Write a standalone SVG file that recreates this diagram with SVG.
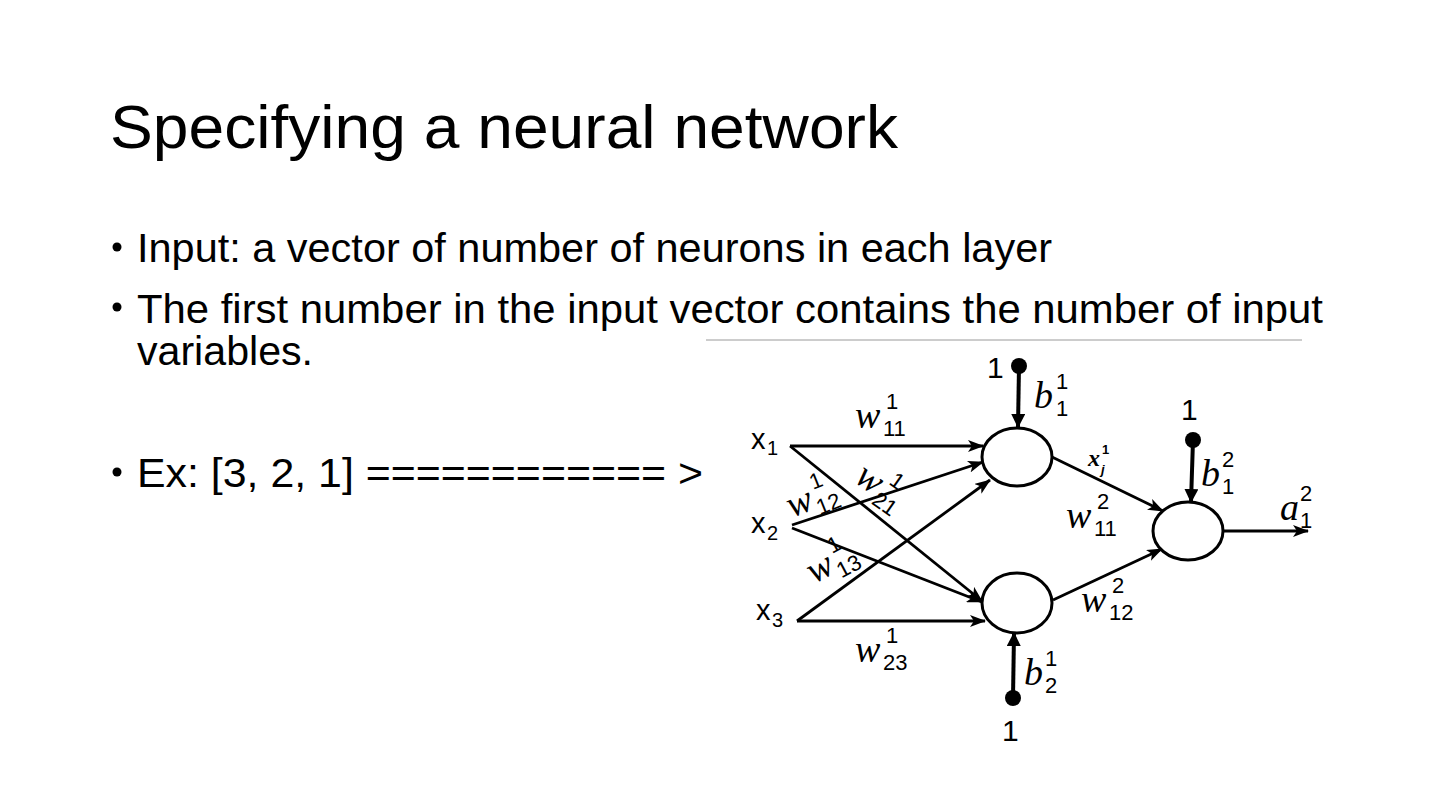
<svg xmlns="http://www.w3.org/2000/svg" width="1440" height="810" viewBox="0 0 1440 810">
<defs>
<style>
.title{font-family:"Liberation Sans Narrow","Liberation Sans",sans-serif;font-size:62px;fill:#000}
.body{font-family:"Liberation Sans Narrow","Liberation Sans",sans-serif;font-size:40px;fill:#000}
.lbl{font-family:"Liberation Sans","DejaVu Sans",sans-serif;font-size:29px;fill:#000}
.lsub{font-family:"Liberation Sans","DejaVu Sans",sans-serif;font-size:20px;fill:#000}
.one{font-family:"Liberation Sans","DejaVu Sans",sans-serif;font-size:30px;fill:#000}
.m{font-family:"Liberation Serif","DejaVu Serif",serif;font-style:italic;font-size:38px;fill:#000}
.ms{font-family:"Liberation Sans","DejaVu Sans",sans-serif;font-size:22px;fill:#000}
.edge{stroke:#000;stroke-width:2.8;fill:none}
.bias{stroke:#000;stroke-width:4;fill:none}
.node{fill:#fff;stroke:#000;stroke-width:3}
</style>
<marker id="arr" markerWidth="16" markerHeight="12" refX="15" refY="6" orient="auto" markerUnits="userSpaceOnUse">
<path d="M0,0 L16,6 L0,12 L4,6 z" fill="#000"/>
</marker>
<marker id="barr" markerWidth="14" markerHeight="14" refX="13" refY="7" orient="auto" markerUnits="userSpaceOnUse">
<path d="M0,0 L14,7 L0,14 z" fill="#000"/>
</marker>
</defs>
<rect width="1440" height="810" fill="#fff"/>

<text class="title" x="110" y="148" textLength="788" lengthAdjust="spacingAndGlyphs">Specifying a neural network</text>

<g id="bullets">
<circle cx="117" cy="247" r="4.5" fill="#000"/>
<text class="body" x="137" y="262" textLength="915" lengthAdjust="spacingAndGlyphs">Input: a vector of number of neurons in each layer</text>
<circle cx="117" cy="307" r="4.5" fill="#000"/>
<text class="body" x="137" y="323" textLength="1186" lengthAdjust="spacingAndGlyphs">The first number in the input vector contains the number of input</text>
<text class="body" x="137" y="365" textLength="176" lengthAdjust="spacingAndGlyphs">variables.</text>
<circle cx="117" cy="472" r="4.5" fill="#000"/>
<text class="body" x="137" y="487" textLength="566" lengthAdjust="spacingAndGlyphs">Ex: [3, 2, 1] ============ &gt;</text>
</g>

<line x1="706" y1="340" x2="1302" y2="340" stroke="#9a9a9a" stroke-width="1"/>

<g id="connectors">
<line class="edge" x1="790" y1="446" x2="983" y2="446" marker-end="url(#arr)"/>
<line class="edge" x1="790" y1="446" x2="982" y2="601" marker-end="url(#arr)"/>
<line class="edge" x1="792" y1="525" x2="983" y2="462" marker-end="url(#arr)"/>
<line class="edge" x1="792" y1="528" x2="982" y2="602" marker-end="url(#arr)"/>
<line class="edge" x1="797" y1="621" x2="990" y2="480" marker-end="url(#arr)"/>
<line class="edge" x1="797" y1="621" x2="985" y2="621" marker-end="url(#arr)"/>
<line class="edge" x1="1052" y1="457" x2="1163" y2="511" marker-end="url(#arr)"/>
<line class="edge" x1="1053" y1="600" x2="1162" y2="549" marker-end="url(#arr)"/>
<line class="edge" x1="1224" y1="531" x2="1308" y2="531" marker-end="url(#arr)"/>
<line class="bias" x1="1019" y1="366" x2="1018" y2="427" marker-end="url(#barr)"/>
<line class="bias" x1="1193" y1="440" x2="1191" y2="502" marker-end="url(#barr)"/>
<line class="bias" x1="1013" y1="698" x2="1014" y2="633" marker-end="url(#barr)"/>
</g>

<g id="input-x1"><text class="lbl" x="751" y="449">x</text><text class="lsub" x="767" y="455">1</text></g>
<g id="input-x2"><text class="lbl" x="751" y="533">x</text><text class="lsub" x="767" y="540">2</text></g>
<g id="input-x3"><text class="lbl" x="756" y="620">x</text><text class="lsub" x="772" y="627">3</text></g>

<g id="hidden-1"><ellipse class="node" cx="1017" cy="457" rx="35" ry="29"/></g>
<g id="hidden-2"><ellipse class="node" cx="1017" cy="603" rx="35" ry="30"/></g>
<g id="output-1"><ellipse class="node" cx="1188" cy="531" rx="35" ry="29"/></g>

<g id="bias-1">
<circle cx="1019" cy="366" r="8" fill="#000"/>
<text class="one" x="987" y="378">1</text>
</g>
<g id="bias-2">
<circle cx="1193" cy="440" r="8" fill="#000"/>
<text class="one" x="1181" y="420">1</text>
</g>
<g id="bias-3">
<circle cx="1013" cy="698" r="8" fill="#000"/>
<text class="one" x="1002" y="741">1</text>
</g>

<g id="labels">
<text class="m" x="855" y="428">w</text><text class="ms" x="886" y="409">1</text><text class="ms" x="883" y="436">11</text>
<text class="m" x="855" y="662">w</text><text class="ms" x="886" y="643">1</text><text class="ms" x="883" y="670">23</text>
<text class="m" x="1034" y="408">b</text><text class="ms" x="1056" y="389">1</text><text class="ms" x="1056" y="416">1</text>
<text class="m" x="1201" y="486">b</text><text class="ms" x="1222" y="467">2</text><text class="ms" x="1222" y="494">1</text>
<text class="m" x="1024" y="685">b</text><text class="ms" x="1045" y="666">1</text><text class="ms" x="1045" y="693">2</text>
<text class="m" x="1280" y="520">a</text><text class="ms" x="1300" y="501">2</text><text class="ms" x="1300" y="528">1</text>
<text class="m" x="1066" y="528">w</text><text class="ms" x="1097" y="509">2</text><text class="ms" x="1094" y="536">11</text>
<text class="m" x="1081" y="612">w</text><text class="ms" x="1112" y="593">2</text><text class="ms" x="1109" y="620">12</text>
<text class="m" x="1088" y="466" style="font-size:24px;font-weight:bold">x</text><text class="ms" x="1102" y="454" style="font-size:13px;font-weight:bold">1</text><text class="ms" x="1101" y="474" style="font-style:italic;font-size:13px;font-weight:bold">j</text>
<g transform="translate(792,518) rotate(-22)"><text class="m" x="0" y="0">w</text><text class="ms" x="30" y="-18">1</text><text class="ms" x="27" y="8">12</text></g>
<g transform="translate(853,481) rotate(35)"><text class="m" x="0" y="0">w</text><text class="ms" x="30" y="-18">1</text><text class="ms" x="27" y="8">21</text></g>
<g transform="translate(814,584) rotate(-28)"><text class="m" x="0" y="0">w</text><text class="ms" x="30" y="-18">1</text><text class="ms" x="27" y="8">13</text></g>
</g>
</svg>
